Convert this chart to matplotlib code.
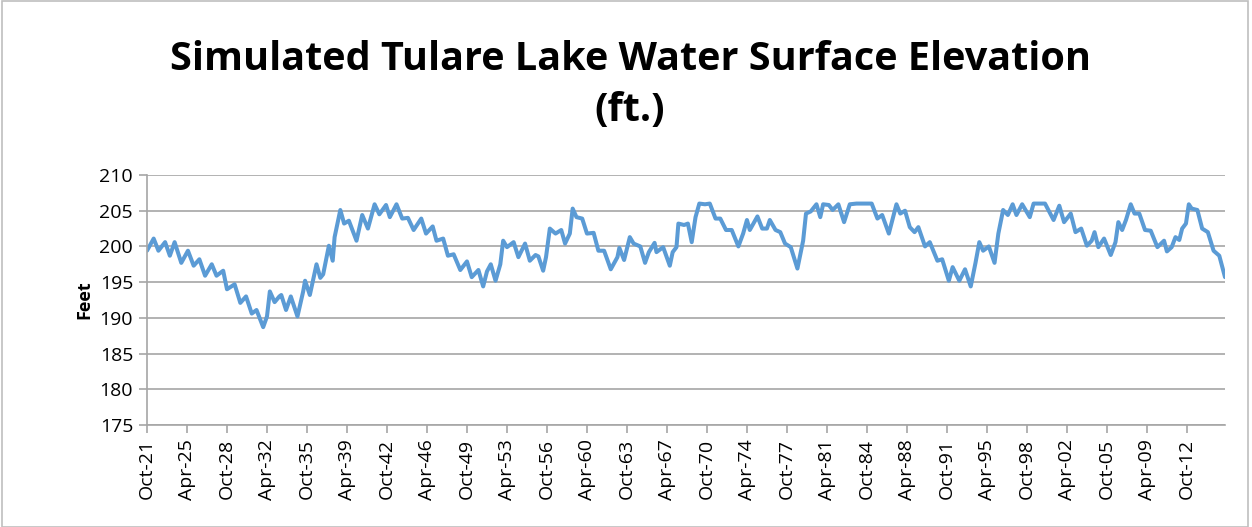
import matplotlib
matplotlib.use("Agg")
import matplotlib.pyplot as plt
from matplotlib.patches import Rectangle

# months since Oct-1921, elevation (ft)
months = [0, 7, 12, 19, 24, 29, 36, 43, 49, 55, 61, 68, 73, 80, 84, 92, 98, 104, 110, 115,
          122, 126, 129, 134, 139, 141, 146, 151, 158, 164, 166, 171, 178, 182, 185, 191, 195,
          197, 203, 207, 212, 220, 226, 232, 239, 244, 251, 255, 262, 268, 274, 280, 288, 293,
          300, 304, 311, 316, 322, 329, 336, 341, 348, 353, 357, 361, 366, 371, 374, 378, 385,
          390, 397, 402, 408, 411, 416, 419, 423, 429, 435, 439, 444, 447, 451, 457, 462, 469,
          474, 480, 487, 494, 496, 501, 507, 511, 518, 523, 527, 533, 535, 542, 549, 552, 556,
          558, 564, 568, 572, 576, 580, 586, 591, 597, 602, 608, 614, 621, 626, 630, 633, 641,
          646, 651, 654, 660, 665, 670, 676, 683, 689, 692, 697, 703, 707, 710, 716, 720, 726,
          732, 738, 745, 761, 767, 772, 779, 787, 791, 796, 801, 806, 810, 817, 822, 830, 835,
          842, 846, 853, 859, 865, 870, 874, 878, 884, 890, 894, 899, 904, 909, 913, 919, 927,
          931, 943, 952, 958, 963, 970, 975, 981, 987, 992, 995, 999, 1005, 1012, 1017, 1020,
          1024, 1028, 1033, 1037, 1042, 1048, 1054, 1061, 1068, 1071, 1076, 1080, 1084, 1087,
          1091, 1094, 1097, 1103, 1108, 1114, 1120, 1126, 1132]
elevation = [199.4, 201.1, 199.4, 200.6, 198.7, 200.6, 197.7, 199.4, 197.3, 198.2, 195.9, 197.5,
             195.9, 196.6, 194.0, 194.7, 192.1, 193.0, 190.6, 191.1, 188.7, 190.2, 193.7, 192.2,
             193.0, 193.2, 191.1, 193.0, 190.2, 193.7, 195.2, 193.2, 197.5, 195.6, 196.1, 200.1,
             198.0, 201.3, 205.1, 203.2, 203.6, 200.8, 204.4, 202.5, 205.9, 204.5, 205.8, 204.1,
             205.9, 203.9, 204.0, 202.3, 203.9, 201.8, 202.8, 200.8, 201.1, 198.7, 198.9, 196.7,
             197.9, 195.7, 196.7, 194.4, 196.5, 197.5, 195.2, 197.5, 200.8, 199.9, 200.6, 198.5,
             200.4, 198.0, 198.8, 198.6, 196.6, 198.5, 202.5, 201.8, 202.3, 200.4, 201.8, 205.3,
             204.1, 203.9, 201.8, 201.9, 199.4, 199.4, 196.8, 198.5, 199.8, 198.1, 201.3, 200.4,
             200.0, 197.7, 199.2, 200.5, 199.2, 199.9, 197.3, 199.2, 199.9, 203.2, 203.0, 203.2,
             200.6, 204.1, 206.0, 205.9, 206.0, 203.9, 203.9, 202.3, 202.3, 200.0, 201.8, 203.7,
             202.3, 204.2, 202.5, 202.5, 203.7, 202.3, 202.0, 200.4, 199.9, 196.9, 200.8, 204.6,
             204.9, 205.9, 204.1, 205.9, 205.8, 205.1, 205.9, 203.4, 205.9, 206.0, 206.0, 203.9,
             204.4, 201.8, 205.9, 204.6, 205.0, 202.7, 202.0, 202.7, 200.0, 200.6, 198.0, 198.2,
             195.2, 197.1, 195.2, 196.8, 194.4, 197.7, 200.6, 199.4, 200.0, 197.7, 201.8, 205.1,
             204.4, 205.9, 204.4, 205.9, 204.1, 206.0, 206.0, 203.7, 205.7, 203.4, 204.6, 202.0,
             202.5, 200.1, 200.8, 202.0, 199.9, 201.1, 198.8, 200.6, 203.4, 202.3, 203.7, 205.9,
             204.6, 204.6, 202.3, 202.2, 199.9, 200.8, 199.3, 199.9, 201.3, 200.9, 202.5, 203.2,
             205.9, 205.3, 205.1, 202.5, 202.0, 199.4, 198.7, 195.7]

tick_labels = ["Oct-21", "Apr-25", "Oct-28", "Apr-32", "Oct-35", "Apr-39", "Oct-42", "Apr-46",
               "Oct-49", "Apr-53", "Oct-56", "Apr-60", "Oct-63", "Apr-67", "Oct-70", "Apr-74",
               "Oct-77", "Apr-81", "Oct-84", "Apr-88", "Oct-91", "Apr-95", "Oct-98", "Apr-02",
               "Oct-05", "Apr-09", "Oct-12"]
tick_step = 42
y_ticks = [175, 180, 185, 190, 195, 200, 205, 210]

title = "Simulated Tulare Lake Water Surface Elevation\n(ft.)"

W, H = 1252, 527
fig = plt.figure(figsize=(W / 100, H / 100), dpi=100)
fig.patches.append(Rectangle((2 / W, 0), (W - 6) / W, 1 - 1 / H, transform=fig.transFigure,
                             fill=False, edgecolor="#BFBFBF", linewidth=1.2))

ax = fig.add_axes([147 / W, (H - 425) / H, (1225 - 147) / W, 250 / H])
grid_c = "#A6A6A6"
ax.plot(months, elevation, color="#5B9BD5", linewidth=2.9, solid_joinstyle="round",
        solid_capstyle="round")
ax.set_xlim(0, max(months))
ax.set_ylim(175, 210)
ax.set_yticks(y_ticks)
ax.set_yticklabels([str(v) for v in y_ticks], fontsize=14, fontfamily="Open Sans")
ax.set_xticks([i * tick_step for i in range(len(tick_labels))])
ax.set_xticklabels(tick_labels, rotation=90, fontsize=14, fontfamily="Open Sans")
ax.grid(axis="y", color=grid_c, linewidth=1.2)
ax.set_axisbelow(True)
for s in ["top", "right"]:
    ax.spines[s].set_visible(False)
for s in ["left", "bottom"]:
    ax.spines[s].set_color(grid_c)
    ax.spines[s].set_linewidth(1.2)
ax.tick_params(axis="both", color=grid_c, length=6, width=1.2, pad=4)
ax.set_ylabel("Feet", fontsize=13, fontweight="bold", fontfamily="Open Sans", labelpad=4)
fig.text(630 / W, 1 - 85 / H, title, ha="center", va="center", fontsize=28.5,
         fontweight="bold", fontfamily="Open Sans", linespacing=1.4)

fig.savefig("out.png", dpi=100)
